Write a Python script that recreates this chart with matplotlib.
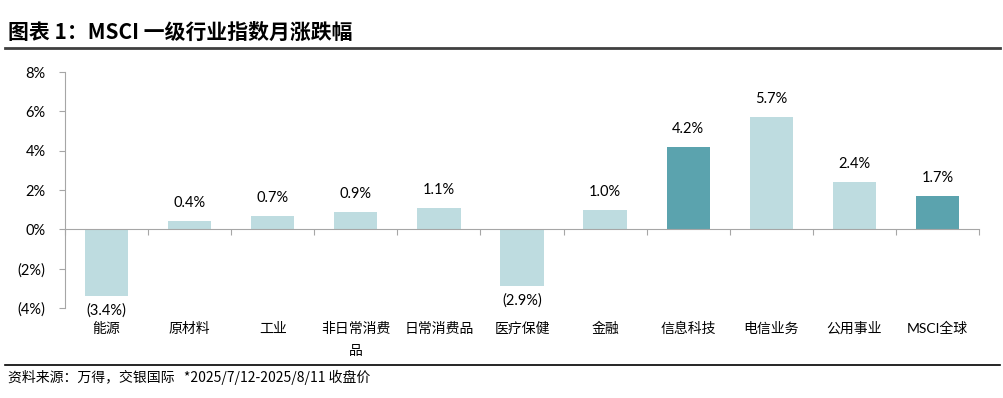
import numpy as np
import matplotlib
matplotlib.use('Agg')
import matplotlib.pyplot as plt
from matplotlib.lines import Line2D
import matplotlib.transforms as mtransforms

plt.rcParams['font.family'] = ['Lato', 'Noto Sans CJK SC', 'DejaVu Sans']

# データ
categories = ['能源', '原材料', '工业', '非日常消费\n品', '日常消费品', '医疗保健',
              '金融', '信息科技', '电信业务', '公用事业', 'MSCI全球']
values = [-3.4, 0.4, 0.7, 0.9, 1.1, -2.9, 1.0, 4.2, 5.7, 2.4, 1.7]
highlight = [False, False, False, False, False, False, False, True, False, False, True]
yticks = [-4, -2, 0, 2, 4, 6, 8]

light = '#BEDCE0'
dark = '#5BA3AE'
grey = '#A6A6A6'

W, H = 1004, 398
fig = plt.figure(figsize=(W / 100, H / 100), dpi=100)
ax = fig.add_axes([65 / W, 1 - 308 / H, (979 - 65) / W, (308 - 72) / H])

x = np.arange(len(categories))
colors = [dark if h else light for h in highlight]
ax.bar(x, values, width=0.52, color=colors, zorder=2)

ax.set_xlim(-0.5, len(categories) - 0.5)
ax.set_ylim(-4, 8)
ax.set_yticks(yticks)
ax.set_yticklabels([f'({abs(t)}%)' if t < 0 else f'{t}%' for t in yticks])
ax.tick_params(axis='y', length=4, color=grey, labelsize=10.5, pad=10)

# x軸は0の位置に、区切り目盛りを下向きに
ax.spines['bottom'].set_position(('data', 0))
ax.spines['bottom'].set_color(grey)
ax.spines['left'].set_color(grey)
ax.spines['top'].set_visible(False)
ax.spines['right'].set_visible(False)
ax.set_xticks(np.arange(len(categories) + 1) - 0.5)
ax.set_xticklabels([])
ax.tick_params(axis='x', length=4, color=grey, direction='out')

# カテゴリ名
trans = mtransforms.blended_transform_factory(ax.transData, ax.transAxes)
for i, c in enumerate(categories):
    ax.text(i, -0.058, c, transform=trans, ha='center', va='top',
            fontsize=10, linespacing=1.75,
            family=['Noto Sans CJK SC', 'DejaVu Sans'] if 'MSCI' not in c else ['Lato', 'Noto Sans CJK SC'])

# データラベル
for i, v in enumerate(values):
    if v < 0:
        ax.annotate(f'({abs(v):.1f}%)', (i, v), xytext=(0, -10.5), textcoords='offset points',
                    ha='center', va='center', fontsize=10.5)
    else:
        ax.annotate(f'{v:.1f}%', (i, v), xytext=(0, 13), textcoords='offset points',
                    ha='center', va='center', fontsize=10.5)

# タイトル
fig.text(8 / W, 1 - 32 / H, '图表 1：MSCI 一级行业指数月涨跌幅', ha='left', va='center',
         fontsize=15, fontweight='bold', family=['Noto Sans CJK SC', 'DejaVu Sans'])
fig.add_artist(Line2D([5 / W, 1000 / W], [1 - 48 / H, 1 - 48 / H], color='#404040', lw=2))
fig.add_artist(Line2D([5 / W, 1000 / W], [1 - 365 / H, 1 - 365 / H], color='black', lw=1.2))

# 出所
fig.text(8 / W, 1 - 377 / H, '资料来源：万得，交银国际   *2025/7/12-2025/8/11 收盘价',
         ha='left', va='center', fontsize=10, style='italic',
         family=['Noto Sans CJK SC', 'DejaVu Sans'])

fig.savefig('out.png', dpi=100)
